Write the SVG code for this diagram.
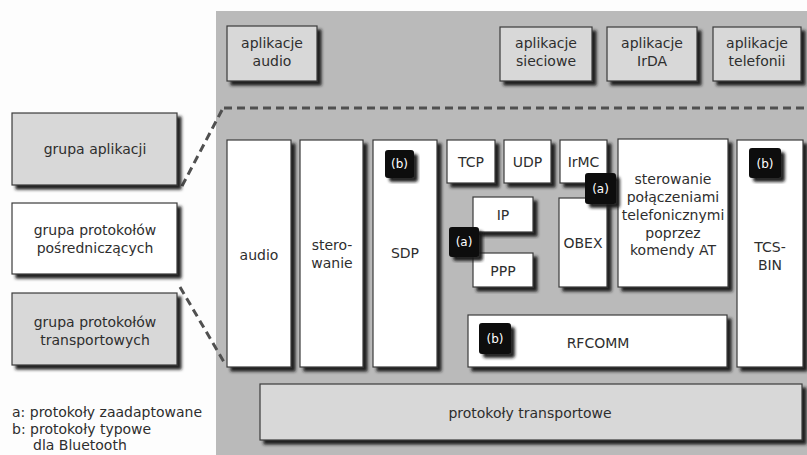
<svg xmlns="http://www.w3.org/2000/svg" width="807" height="455" viewBox="0 0 807 455">
<defs>
<filter id="sh" x="-10%" y="-10%" width="130%" height="130%">
<feGaussianBlur in="SourceAlpha" stdDeviation="1.4"/>
<feOffset dx="3.5" dy="3.5" result="o"/>
<feFlood flood-color="#1a1a1a" flood-opacity="0.95"/>
<feComposite in2="o" operator="in"/>
<feMerge><feMergeNode/><feMergeNode in="SourceGraphic"/></feMerge>
</filter>
</defs>
<style>
.bx{stroke:#3a3a3a;stroke-width:1.2;filter:url(#sh)}
.w{fill:#ffffff}
.g{fill:#d8d8d8}
.t{font-family:"DejaVu Sans",sans-serif;font-size:14px;fill:#2e2e2e;text-anchor:middle}
.l{font-family:"DejaVu Sans",sans-serif;font-size:14px;fill:#2e2e2e}
.bd{fill:#0a0a0a;filter:url(#sh)}
.bt{font-family:"DejaVu Sans",sans-serif;font-size:12px;fill:#ffffff;text-anchor:middle}
.dash{stroke:#505050;stroke-width:3;stroke-dasharray:8 5;fill:none}
</style>
<rect x="0" y="0" width="807" height="455" fill="#fdfdfd"/>
<rect id="background" x="216" y="11" width="591" height="444" fill="#bababa"/>
<g id="connectors">
<line class="dash" x1="224" y1="108" x2="807" y2="108"/>
<line class="dash" x1="222" y1="110" x2="181" y2="188"/>
<line class="dash" x1="180" y1="287" x2="224" y2="362"/>
</g>
<g id="app-audio"><rect class="bx g" x="227" y="26" width="90" height="55"/><text class="t" x="272" y="48">aplikacje</text><text class="t" x="272" y="66">audio</text></g>
<g id="app-sieciowe"><rect class="bx g" x="500" y="27" width="92" height="54"/><text class="t" x="546" y="48">aplikacje</text><text class="t" x="546" y="66">sieciowe</text></g>
<g id="app-irda"><rect class="bx g" x="607" y="27" width="90" height="54"/><text class="t" x="652" y="48">aplikacje</text><text class="t" x="652" y="66">IrDA</text></g>
<g id="app-telefonii"><rect class="bx g" x="713" y="27" width="88" height="54"/><text class="t" x="757" y="48">aplikacje</text><text class="t" x="757" y="66">telefonii</text></g>
<g id="grupa-aplikacji"><rect class="bx g" x="12" y="113" width="165" height="72"/><text class="t" x="95" y="154">grupa aplikacji</text></g>
<g id="grupa-posredniczacych"><rect class="bx w" x="12" y="203" width="165" height="71"/><text class="t" x="95" y="235">grupa protokołów</text><text class="t" x="95" y="253">pośredniczących</text></g>
<g id="grupa-transportowych"><rect class="bx g" x="12" y="293" width="165" height="72"/><text class="t" x="95" y="327">grupa protokołów</text><text class="t" x="95" y="345">transportowych</text></g>
<g id="legenda"><text class="l" x="12" y="417">a: protokoły zaadaptowane</text><text class="l" x="12" y="434">b: protokoły typowe</text><text class="l" x="33" y="450">dla Bluetooth</text></g>
<g id="audio"><rect class="bx w" x="227" y="140" width="64" height="227"/><text class="t" x="259" y="260">audio</text></g>
<g id="sterowanie"><rect class="bx w" x="300" y="140" width="63" height="227"/><text class="t" x="332" y="250">stero-</text><text class="t" x="332" y="268">wanie</text></g>
<g id="sdp"><rect class="bx w" x="373" y="140" width="64" height="227"/><text class="t" x="405" y="258">SDP</text><rect class="bd" x="385" y="150" width="29" height="28" rx="3"/><text class="bt" x="399.5" y="168">(b)</text></g>
<g id="tcp"><rect class="bx w" x="447" y="140" width="48" height="43"/><text class="t" x="471" y="167">TCP</text></g>
<g id="udp"><rect class="bx w" x="504" y="140" width="47" height="43"/><text class="t" x="527.5" y="167">UDP</text></g>
<g id="irmc"><rect class="bx w" x="560" y="140" width="47" height="43"/><text class="t" x="583.5" y="167">IrMC</text></g>
<g id="ip"><rect class="bx w" x="473" y="197" width="60" height="35"/><text class="t" x="503" y="220">IP</text></g>
<g id="ppp"><rect class="bx w" x="473" y="253" width="60" height="34"/><text class="t" x="503" y="276">PPP</text></g>
<g id="obex"><rect class="bx w" x="559" y="198" width="48" height="89"/><text class="t" x="583" y="248">OBEX</text></g>
<g id="sterowanie-at"><rect class="bx w" x="618" y="139" width="110" height="148"/><text class="t" x="673" y="184">sterowanie</text><text class="t" x="673" y="202">połączeniami</text><text class="t" x="673" y="220">telefonicznymi</text><text class="t" x="673" y="238">poprzez</text><text class="t" x="673" y="255">komendy AT</text></g>
<g id="tcs-bin"><rect class="bx w" x="737" y="140" width="66" height="227"/><text class="t" x="770" y="252">TCS-</text><text class="t" x="770" y="270">BIN</text><rect class="bd" x="749" y="148" width="32" height="30" rx="3"/><text class="bt" x="765" y="168">(b)</text></g>
<g id="rfcomm"><rect class="bx w" x="468" y="315" width="259" height="52"/><text class="t" x="598" y="348">RFCOMM</text><rect class="bd" x="479" y="323" width="32" height="31" rx="3"/><text class="bt" x="495" y="343">(b)</text></g>
<g id="transportowe"><rect class="bx g" x="260" y="384" width="542" height="56"/><text class="t" x="530" y="418">protokoły transportowe</text></g>
<g id="badge-a-irmc"><rect class="bd" x="585" y="173" width="31" height="31" rx="3"/><text class="bt" x="600.5" y="193">(a)</text></g>
<g id="badge-a-ip"><rect class="bd" x="449" y="227" width="30" height="30" rx="3"/><text class="bt" x="464" y="246">(a)</text></g>
</svg>
